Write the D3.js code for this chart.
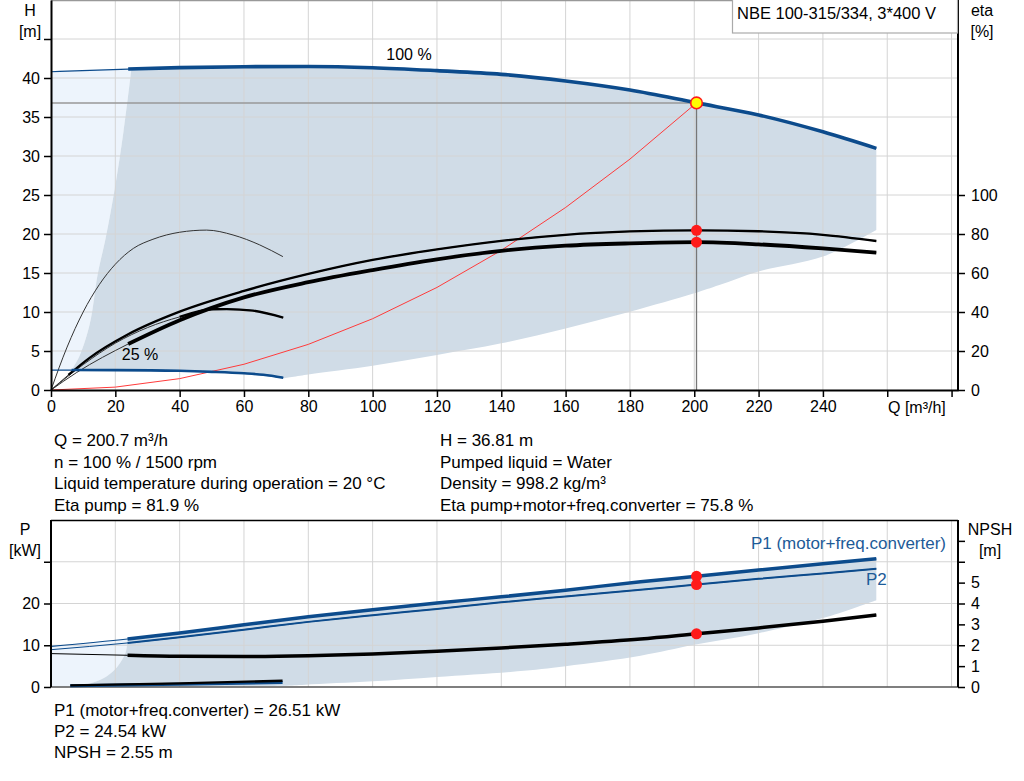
<!DOCTYPE html>
<html><head><meta charset="utf-8">
<script src="https://cdn.jsdelivr.net/npm/d3@7"></script>
<style>
body{margin:0;background:#fff}
text{font-family:"Liberation Sans",Arial,sans-serif;fill:#000}
</style></head>
<body><svg id="c" width="1024" height="781"></svg>
<script>
// ---------- data ----------
const qTicks = [0,20,40,60,80,100,120,140,160,180,200,220,240,260,280];
const qTickLabels = ["0","20","40","60","80","100","120","140","160","180","200","220","240","",""];
const hTicks = [0,5,10,15,20,25,30,35,40,45];
const hTickLabels = ["0","5","10","15","20","25","30","35","40",""];
const etaTicks = [0,20,40,60,80,100];
const pTicks = [0,10,20,30];
const pTickLabels = ["0","10","20",""];
const npshTicks = [0,1,2,3,4,5,6,7];
const npshTickLabels = ["0","1","2","3","4","5","",""];

// H curve at 100 % speed
const qH100 = [0,24,40,60,80,100,120,140,160,180,200.7,220,240,256.6];
const h100  = [40.8,41.15,41.33,41.45,41.48,41.32,40.94,40.47,39.62,38.46,36.81,35.26,33.1,30.98];
// H curve at 25 % speed
const qH25 = [0,6.4,20,40,50,60,66,72.2];
const h25  = [2.56,2.56,2.55,2.46,2.33,2.14,1.95,1.58];
// eta pump / eta total at 100 %
const qEtaP100 = [0,5.4,12,24,40,60,80,100,120,140,160,180,200.7,220,240,256.6];
const etaP100  = [0,7.7,16.5,28.6,40.2,50.8,59.5,66.7,72.1,76.5,79.6,81.3,81.9,81.4,79.6,76.4];
const qEtaT100 = [0,8,24,40,60,80,100,120,140,160,180,200.7,220,240,256.6];
const etaT100  = [0,9,23.6,35.8,47.5,55.3,61.5,67,71.4,74,75.2,75.8,74.7,72.6,70.4];
// eta pump / eta total at 25 %
const qEtaP25 = [0,5,10,15,20,25.6,31.7,40,48.4,56.6,64.9,72.1];
const etaP25  = [0,22,40,54,64.5,72.6,77.3,80.9,82,79.5,74.4,68.4];
const qEtaT25 = [0,10,20,30,40,50.4,54.6,62.8,72.2];
const etaT25  = [0,13,24,32,37.5,41.4,41.5,40.7,37.1];
// system curve
const qSys = [0,20,40,60,80,100,120,140,160,180,200.7];
const hSys = [0,0.37,1.46,3.3,5.85,9.14,13.15,17.9,23.4,29.6,36.81];
// operating range boundaries (H diagram)
const qMinH = [6.4,9,12.1,14.5,17,19.9,22.5,25];
const hMinH = [2.56,4.5,8.55,14.8,19.5,26,33,41.2];
const qLowH = [72.2,80,100,120,140,160,180,200,207.8,220,240,256.6];
const hLowH = [1.5,2.0,3.12,4.49,5.98,7.9,10.04,12.4,13.46,15.2,17.1,20.5];
// duty point
const dutyQ = 200.7, dutyH = 36.81, dutyEtaP = 81.9, dutyEtaT = 75.8;
const dutyP1 = 26.51, dutyP2 = 24.54, dutyNPSH = 2.55;

// power / NPSH diagram
const qP = [0,23.8,40,60,80,100,120,140,160,183.3,200.7,220,240,256.6];
const p1 = [9.74,11.5,12.95,14.9,16.8,18.5,20.1,21.6,23.2,25.2,26.51,28.0,29.5,30.7];
const p2 = [8.94,10.55,11.9,13.74,15.6,17.2,18.7,20.3,21.7,23.3,24.54,25.9,27.2,28.3];
const npsh = [1.6,1.52,1.47,1.46,1.5,1.58,1.71,1.87,2.05,2.3,2.55,2.83,3.15,3.45];
const qP25 = [6,40,72];
const p1_25 = [0.3,0.65,1.05];
const qN25 = [6,40,72];
const npsh25 = [0.08,0.17,0.3];
const qMinP = [6,10,14,17,20,22,23.3,23.8];
const pMinP = [0.1,0.5,1.3,2.4,4.3,6.4,8.5,11.5];
const qLowP = [6,72,79,100,120,145,160,183.3,200,220,240,256.6];
const pLowP = [0.1,0.3,0.55,1.35,2.4,3.75,5.0,7.5,10.1,12.9,16.5,20.8];

const title = "NBE 100-315/334, 3*400 V";
const infoLeft = ["Q = 200.7 m³/h","n = 100 % / 1500 rpm","Liquid temperature during operation = 20 °C","Eta pump = 81.9 %"];
const infoRight = ["H = 36.81 m","Pumped liquid = Water","Density = 998.2 kg/m³","Eta pump+motor+freq.converter = 75.8 %"];
const infoBottom = ["P1 (motor+freq.converter) = 26.51 kW","P2 = 24.54 kW","NPSH = 2.55 m"];

// ---------- setup ----------
const BLUE = "#0c4b8c", LBLUE = "#1d5b98", GREY = "#d0dce7", LIGHT = "#edf4fc", GRID = "#d4d4d4";
const FS_TICK = "16px", FS_TXT = "17px";
const svg = d3.select("#c");
const x = d3.scaleLinear().domain([0,282]).range([51,958]);
const yH = d3.scaleLinear().domain([0,50]).range([390,0]);
const yEta = d3.scaleLinear().domain([0,200]).range([390,0]);
const yP = d3.scaleLinear().domain([0,40]).range([687,520]);
const yN = d3.scaleLinear().domain([0,8]).range([687,520]);

const zip = (a,b) => a.map((v,i)=>[v,b[i]]);
const lineGen = (ys, curve) => d3.line().x(d=>x(d[0])).y(d=>ys(d[1])).curve(curve||d3.curveMonotoneX);
const poly = (edges) => edges.map((e,i)=>{
  const d = d3.line().x(p=>x(p[0])).y(p=>e.ys(p[1])).curve(d3.curveCatmullRom)(e.pts);
  return i ? d.replace(/^M/,"L") : d;
}).join("") + "Z";

function drawLine(pts, ys, color, w, curve){
  svg.append("path").attr("d", lineGen(ys, curve)(pts)).attr("fill","none")
     .attr("stroke",color).attr("stroke-width",w).attr("stroke-linejoin","round").attr("stroke-linecap","butt");
}
function txt(xp, yp, s, size, anchor, color){
  return svg.append("text").attr("x",xp).attr("y",yp).attr("text-anchor",anchor||"start")
    .style("font-size",size).style("fill",color||"#000").text(s);
}

// ---------- top diagram ----------
const H100 = zip(qH100,h100), H25 = zip(qH25,h25);
svg.append("path").attr("fill",LIGHT).attr("d", poly([
  {pts:H100.filter(d=>d[0]<=24), ys:yH},
  {pts:zip(qMinH,hMinH).reverse(), ys:yH},
  {pts:H25.filter(d=>d[0]<=6.4).reverse(), ys:yH}
]));
svg.append("path").attr("fill",GREY).attr("d", poly([
  {pts:zip(qMinH,hMinH), ys:yH},
  {pts:H100.filter(d=>d[0]>=40), ys:yH},
  {pts:zip(qLowH,hLowH).reverse(), ys:yH},
  {pts:H25.filter(d=>d[0]>=6.4).reverse(), ys:yH}
]));

const gTop = svg.append("g");
qTicks.slice(1).forEach(q=>gTop.append("line").attr("x1",x(q)).attr("x2",x(q)).attr("y1",0).attr("y2",390).attr("stroke",GRID));
hTicks.slice(1).forEach(h=>gTop.append("line").attr("x1",51).attr("x2",958).attr("y1",yH(h)).attr("y2",yH(h)).attr("stroke",GRID));
svg.append("line").attr("x1",51).attr("x2",958).attr("y1",0.5).attr("y2",0.5).attr("stroke","#999").attr("stroke-width",1.5);

svg.append("line").attr("x1",x(0)).attr("x2",x(dutyQ)).attr("y1",yH(dutyH)).attr("y2",yH(dutyH)).attr("stroke","#999").attr("stroke-width",1.5);
svg.append("line").attr("x1",x(dutyQ)).attr("x2",x(dutyQ)).attr("y1",yH(dutyH)).attr("y2",yH(0)).attr("stroke","#777").attr("stroke-width",1.3);

drawLine(zip(qSys,hSys), yH, "#ff3b3b", 1, d3.curveLinear);

const EP25 = zip(qEtaP25,etaP25), ET25 = zip(qEtaT25,etaT25);
const EP100 = zip(qEtaP100,etaP100), ET100 = zip(qEtaT100,etaT100);
drawLine(EP25, yEta, "#333", 1);
drawLine(ET25, yEta, "#333", 1);
drawLine(ET25.filter(d=>d[0]>=40), yEta, "#000", 2.3);
drawLine(EP100, yEta, "#333", 1);
drawLine(EP100.filter(d=>d[0]>=5.4), yEta, "#000", 2.3);
drawLine(ET100, yEta, "#333", 1);
drawLine(ET100.filter(d=>d[0]>=24), yEta, "#000", 3.8);

drawLine(H25, yH, BLUE, 1.2);
drawLine(H25.filter(d=>d[0]>=6.4), yH, BLUE, 2.6);
drawLine(H100, yH, BLUE, 1.2);
drawLine(H100.filter(d=>d[0]>=24), yH, BLUE, 3.6);

svg.append("circle").attr("cx",x(dutyQ)).attr("cy",yEta(dutyEtaP)).attr("r",5.5).attr("fill","#ff1a1a");
svg.append("circle").attr("cx",x(dutyQ)).attr("cy",yEta(dutyEtaT)).attr("r",5.5).attr("fill","#ff1a1a");
svg.append("circle").attr("cx",x(dutyQ)).attr("cy",yH(dutyH)).attr("r",5.8).attr("fill","#ffff00").attr("stroke","#ff1a1a").attr("stroke-width",1.6);

txt(409, 60, "100 %", FS_TICK, "middle");
txt(140, 360, "25 %", FS_TICK, "middle");

function styleAxis(g){
  g.select(".domain").attr("stroke","#000").attr("stroke-width",2);
  g.selectAll(".tick line").attr("stroke","#000").attr("stroke-width",1.5);
  g.selectAll("text").style("font-size",FS_TICK).attr("font-family",null).style("fill","#000");
}
const axL = svg.append("g").attr("transform","translate(51,0)")
  .call(d3.axisLeft(yH).tickValues(hTicks).tickSize(7).tickPadding(4).tickSizeOuter(0).tickFormat((d,i)=>hTickLabels[i]));
styleAxis(axL);
const axB = svg.append("g").attr("transform","translate(0,390)")
  .call(d3.axisBottom(x).tickValues(qTicks).tickSize(7).tickPadding(4).tickSizeOuter(0).tickFormat((d,i)=>qTickLabels[i]));
styleAxis(axB);
const axR = svg.append("g").attr("transform","translate(958,0)")
  .call(d3.axisRight(yEta).tickValues(etaTicks).tickSize(7).tickPadding(6).tickSizeOuter(0));
styleAxis(axR);
axR.select(".domain").attr("d","M0,0V390");

txt(888, 413, "Q [m³/h]", FS_TICK);
txt(30, 16, "H", FS_TICK, "middle");
txt(30, 37, "[m]", FS_TICK, "middle");
txt(982, 16, "eta", FS_TICK, "middle");
txt(982, 37, "[%]", FS_TICK, "middle");

svg.append("rect").attr("x",732.5).attr("y",-1).attr("width",225).attr("height",34).attr("fill","#fff").attr("stroke","#aaa").attr("stroke-width",1.2);
txt(737, 18.5, title, "16.5px");

infoLeft.forEach((t,i)=>txt(54, 446+i*21.6, t, FS_TXT));
infoRight.forEach((t,i)=>txt(440, 446+i*21.6, t, FS_TXT));

// ---------- bottom diagram ----------
const P1 = zip(qP,p1), P2 = zip(qP,p2), NP = zip(qP,npsh);
svg.append("path").attr("fill",LIGHT).attr("d", poly([
  {pts:P1.filter(d=>d[0]<=23.8), ys:yP},
  {pts:zip(qMinP,pMinP).reverse(), ys:yP},
  {pts:[[0,0]], ys:yP}
]));
svg.append("path").attr("fill",GREY).attr("d", poly([
  {pts:zip(qMinP,pMinP), ys:yP},
  {pts:P1.filter(d=>d[0]>=23.8), ys:yP},
  {pts:zip(qLowP,pLowP).reverse(), ys:yP}
]));
const gBot = svg.append("g");
qTicks.slice(1).forEach(q=>gBot.append("line").attr("x1",x(q)).attr("x2",x(q)).attr("y1",520).attr("y2",687).attr("stroke",GRID));
pTicks.slice(1).forEach(p=>gBot.append("line").attr("x1",51).attr("x2",958).attr("y1",yP(p)).attr("y2",yP(p)).attr("stroke",GRID));
svg.append("line").attr("x1",51).attr("x2",958).attr("y1",520.5).attr("y2",520.5).attr("stroke","#000").attr("stroke-width",1.5);
svg.append("line").attr("x1",51).attr("x2",958).attr("y1",687).attr("y2",687).attr("stroke","#555").attr("stroke-width",1.5);

drawLine(zip(qP25,p1_25), yP, BLUE, 3);
drawLine(zip(qN25,npsh25), yN, "#000", 2.3);
drawLine(NP, yN, "#000", 1);
drawLine(NP.filter(d=>d[0]>=23.8), yN, "#000", 3.5);
drawLine(P2, yP, BLUE, 1);
drawLine(P2.filter(d=>d[0]>=23.8), yP, BLUE, 2);
drawLine(P1, yP, BLUE, 1.2);
drawLine(P1.filter(d=>d[0]>=23.8), yP, BLUE, 3.5);

svg.append("circle").attr("cx",x(dutyQ)).attr("cy",yP(dutyP1)).attr("r",5.5).attr("fill","#ff1a1a");
svg.append("circle").attr("cx",x(dutyQ)).attr("cy",yP(dutyP2)).attr("r",5.5).attr("fill","#ff1a1a");
svg.append("circle").attr("cx",x(dutyQ)).attr("cy",yN(dutyNPSH)).attr("r",5.5).attr("fill","#ff1a1a");

txt(946, 549, "P1 (motor+freq.converter)", FS_TXT, "end", LBLUE);
txt(866, 585, "P2", FS_TXT, "start", LBLUE);

const axPL = svg.append("g").attr("transform","translate(51,0)")
  .call(d3.axisLeft(yP).tickValues(pTicks).tickSize(7).tickPadding(4).tickSizeOuter(0).tickFormat((d,i)=>pTickLabels[i]));
styleAxis(axPL);
axPL.select(".domain").attr("d","M0,520V687");
const axNR = svg.append("g").attr("transform","translate(958,0)")
  .call(d3.axisRight(yN).tickValues(npshTicks).tickSize(7).tickPadding(6).tickSizeOuter(0).tickFormat((d,i)=>npshTickLabels[i]));
styleAxis(axNR);
axNR.select(".domain").attr("d","M0,520V687");

txt(25, 535, "P", FS_TICK, "middle");
txt(25, 556, "[kW]", FS_TICK, "middle");
txt(990, 535, "NPSH", FS_TICK, "middle");
txt(990, 556, "[m]", FS_TICK, "middle");

infoBottom.forEach((t,i)=>txt(54, 716+i*21, t, FS_TXT));
</script></body></html>
